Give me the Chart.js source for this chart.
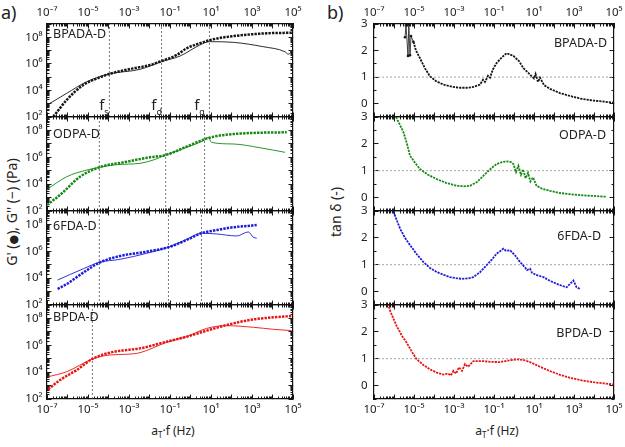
<!DOCTYPE html>
<html><head><meta charset="utf-8">
<script src="https://cdn.jsdelivr.net/npm/chart.js@4.4.1/dist/chart.umd.min.js"></script>
<style>
html,body{margin:0;padding:0;background:#fff;}
body{width:625px;height:447px;position:relative;overflow:hidden;font-family:'Noto Sans','DejaVu Sans',sans-serif;color:#222;}
canvas{position:absolute;left:0;top:0;}
.t{position:absolute;white-space:nowrap;line-height:1;}
.rot{transform:translate(-50%,-50%) rotate(-90deg);}
.ctr{transform:translate(-50%,-50%);}
sub{font-size:8px;vertical-align:-3px;}
</style></head><body>
<div class="t" style="left:1px;top:3px;font-size:18px">a)</div>
<div class="t" style="left:327px;top:3px;font-size:18px">b)</div>
<div class="t rot" style="left:12px;top:212px;font-size:14px">G' (<span style="font-size:11px">●</span>), G'' (−) (Pa)</div>
<div class="t rot" style="left:336px;top:212px;font-size:14px">tan δ (-)</div>
<div class="t ctr" style="left:173px;top:432px;font-size:12px">a<sub>T</sub>·f (Hz)</div>
<div class="t ctr" style="left:497px;top:432px;font-size:12px">a<sub>T</sub>·f (Hz)</div>
<script>
// ---------------- DATA ----------------
const panelNames = ['BPADA-D', 'ODPA-D', '6FDA-D', 'BPDA-D'];
const panelColors = ['#151515', '#148a14', '#1c1cd8', '#e81414'];
const xLabelExponents = [-7, -5, -3, -1, 1, 3, 5];
const gLabelExponents = [2, 4, 6, 8];
const tanLabels = [0, 1, 2, 3];

// left panels: log10(aT*f) and log10(G)
const bpadaGpF  = [-6.69, -6.04, -5.23, -4.41, -3.96, -2.79, -1.98, -1.42, -0.67, -0.19, 0.46, 1.11, 2.09, 3.72, 4.94];
const bpadaGpG  = [2.02, 3.28, 4.41, 4.99, 5.24, 5.66, 5.91, 6.21, 6.67, 7.17, 7.55, 7.85, 8.09, 8.30, 8.34];
const bpadaGppF = [-7.0, -6.04, -5.06, -3.96, -2.46, -1.42, -0.51, 0.46, 0.92, 2.09, 3.55, 4.61, 4.77, 5.0];
const bpadaGppG = [2.90, 3.78, 4.66, 5.24, 5.59, 6.16, 6.59, 7.42, 7.67, 7.62, 7.29, 6.91, 6.73, 7.04];

const odpaGpF  = [-7.0, -6.37, -5.39, -4.45, -3.11, -1.98, -1.21, -0.19, 0.69, 1.28, 2.09, 3.39, 4.69];
const odpaGpG  = [2.45, 3.19, 4.55, 5.25, 5.67, 6.0, 6.17, 6.79, 7.34, 7.58, 7.73, 7.83, 7.86];
const odpaGppF = [-7.0, -6.04, -5.06, -4.45, -3.6, -2.46, -1.81, -1.21, -0.19, 0.69, 0.87, 1.03, 2.09, 3.39, 4.61];
const odpaGppG = [3.61, 4.55, 5.05, 5.25, 5.45, 5.55, 5.80, 6.17, 6.74, 7.29, 7.49, 7.11, 6.99, 6.71, 6.37];

const fdaGpF  = [-6.48, -6.04, -5.23, -4.45, -3.44, -2.14, -1.08, -0.19, 0.53, 1.28, 2.09, 2.90, 3.23];
const fdaGpG  = [3.19, 3.56, 4.41, 5.15, 5.65, 5.97, 6.30, 6.84, 7.34, 7.58, 7.79, 7.90, 7.96];
const fdaGppF = [-6.48, -5.23, -4.45, -3.44, -2.14, -1.08, -0.19, 0.53, 1.28, 2.25, 2.82, 3.07, 3.23];
const fdaGppG = [3.86, 4.70, 5.18, 5.40, 5.85, 6.30, 6.89, 7.34, 7.29, 7.14, 7.44, 7.04, 6.97];

const bpdaGpF  = [-6.94, -6.37, -5.55, -4.79, -3.93, -3.11, -2.46, -1.16, -0.19, 0.79, 1.77, 3.07, 4.04, 4.94];
const bpdaGpG  = [2.72, 3.41, 4.16, 4.98, 5.45, 5.65, 5.77, 6.27, 6.64, 7.09, 7.51, 7.93, 8.08, 8.18];
const bpdaGppF = [-6.94, -6.04, -4.79, -3.93, -3.11, -2.46, -1.16, -0.19, 0.79, 1.77, 3.07, 4.04, 4.94];
const bpdaGppG = [3.66, 4.03, 4.98, 5.28, 5.33, 5.45, 6.22, 6.64, 7.26, 7.46, 7.34, 7.19, 7.09];

// characteristic frequencies (log10), dotted lines
const fLinesLog = [[-3.96, -1.42, 0.92], [-4.45, -1.21, 0.69], [-4.45, -1.08, 0.53], [-4.79]];
const fLineSubs = ['s', 'd', 'g'];

// right panels: log10(aT*f) and tan delta
const bpadaTanF = [-5.45, -5.4, -5.3, -5.26, -5.2, -5.15, -5.03, -4.9, -4.7, -4.45, -4.2, -3.9, -3.53, -3.1, -2.7, -2.35, -2.03, -1.7, -1.55, -1.45, -1.3, -1.2, -1.05, -0.87, -0.6, -0.37, -0.03, 0.25, 0.47, 0.8, 1.0, 1.08, 1.2, 1.3, 1.5, 1.8, 2.3, 2.8, 3.4, 3.97, 4.5, 4.97];
const bpadaTan  = [2.5, 2.95, 1.8, 3.0, 1.82, 2.55, 2.33, 2.0, 1.71, 1.33, 1.03, 0.85, 0.72, 0.64, 0.6, 0.6, 0.63, 0.72, 0.9, 0.82, 1.05, 0.98, 1.3, 1.53, 1.75, 1.9, 1.8, 1.6, 1.34, 1.1, 0.95, 1.12, 0.82, 0.98, 0.7, 0.56, 0.4, 0.29, 0.18, 0.12, 0.08, 0.04];
const odpaTanF = [-5.9, -5.7, -5.53, -5.35, -5.2, -4.95, -4.7, -4.3, -3.87, -3.4, -2.87, -2.5, -2.2, -1.85, -1.53, -1.2, -0.87, -0.6, -0.37, -0.15, -0.03, 0.1, 0.22, 0.35, 0.45, 0.58, 0.7, 0.82, 0.95, 1.13, 1.4, 1.8, 2.3, 2.8, 3.5, 4.0, 4.63];
const odpaTan  = [3.0, 2.7, 2.44, 2.0, 1.56, 1.3, 1.06, 0.85, 0.69, 0.55, 0.44, 0.42, 0.44, 0.58, 0.81, 1.05, 1.25, 1.32, 1.35, 1.32, 1.25, 0.95, 1.18, 0.85, 1.05, 0.72, 0.92, 0.6, 0.75, 0.44, 0.33, 0.25, 0.17, 0.125, 0.08, 0.06, 0.03];
const fdaTanF = [-6.03, -5.7, -5.45, -5.2, -4.85, -4.53, -4.2, -3.87, -3.5, -3.2, -2.9, -2.62, -2.3, -2.03, -1.7, -1.37, -1.1, -0.87, -0.7, -0.53, -0.4, -0.2, 0.05, 0.3, 0.55, 0.65, 0.8, 0.9, 1.1, 1.47, 1.8, 2.13, 2.45, 2.63, 2.97, 3.13, 3.3];
const fdaTan  = [2.98, 2.35, 2.0, 1.73, 1.38, 1.1, 0.88, 0.73, 0.62, 0.54, 0.5, 0.475, 0.49, 0.54, 0.72, 0.98, 1.2, 1.41, 1.5, 1.6, 1.52, 1.54, 1.35, 1.1, 0.9, 0.8, 0.85, 0.7, 0.62, 0.54, 0.4, 0.29, 0.2, 0.16, 0.41, 0.16, 0.1];
const bpdaTanF = [-6.3, -6.2, -5.87, -5.6, -5.37, -5.1, -4.87, -4.5, -4.2, -3.85, -3.53, -3.3, -3.15, -3.03, -2.9, -2.75, -2.6, -2.45, -2.3, -2.03, -1.53, -1.1, -0.7, -0.3, 0.13, 0.5, 0.8, 1.3, 1.8, 2.3, 2.8, 3.4, 3.97, 4.5, 4.97];
const bpdaTan  = [3.05, 2.79, 2.22, 1.85, 1.6, 1.25, 0.98, 0.75, 0.6, 0.48, 0.41, 0.45, 0.38, 0.55, 0.45, 0.68, 0.55, 0.8, 0.7, 0.91, 0.91, 0.88, 0.875, 0.93, 0.975, 0.95, 0.875, 0.7, 0.54, 0.4, 0.29, 0.19, 0.125, 0.08, 0.04];
// leading noisy points (drawn as thin error-bar-like strokes)
const tanNoisyCount = [7, 0, 0, 0];

const leftData = [
  {gpF: bpadaGpF, gp: bpadaGpG, gppF: bpadaGppF, gpp: bpadaGppG},
  {gpF: odpaGpF, gp: odpaGpG, gppF: odpaGppF, gpp: odpaGppG},
  {gpF: fdaGpF, gp: fdaGpG, gppF: fdaGppF, gpp: fdaGppG},
  {gpF: bpdaGpF, gp: bpdaGpG, gppF: bpdaGppF, gpp: bpdaGppG}
];
const rightData = [
  {f: bpadaTanF, t: bpadaTan}, {f: odpaTanF, t: odpaTan}, {f: fdaTanF, t: fdaTan}, {f: bpdaTanF, t: bpdaTan}
];

// ---------------- LAYOUT ----------------
const W = 625, H = 447;
const COLS = {L: {l: 47, r: 293}, R: {l: 374, r: 614}};
const ROWS = [24, 117, 211, 305, 399];
const FONT = "'Noto Sans','DejaVu Sans',sans-serif";
const Y_LABEL_BOX = {L: 42, R: 30};
const TOP_LABEL_BOX = 24, BOTTOM_LABEL_BOX = 26;
const leftNamePos = [[6, 10], [6, 17], [6, 15], [6, 12]];
const rightNamePos = [[7, 19], [8, 18], [13, 25], [12, 28]];
const fLabelDx = [[-5, -5, -10], [-5, -5, -5], [-5, -5, -5], [-5]];

function sup(n) {
  const m = {'-': '⁻', '0': '⁰', '1': '¹', '2': '²', '3': '³', '4': '⁴', '5': '⁵', '6': '⁶', '7': '⁷', '8': '⁸', '9': '⁹'};
  return String(n).split('').map(c => m[c]).join('');
}
function logList(e0, e1, minor) {
  const a = [];
  for (let e = e0; e < e1; e++) {
    if (minor) { for (let m = 1; m < 10; m++) a.push(+(m + 'e' + e)); }
    else a.push(+('1e' + e));
  }
  a.push(+('1e' + e1));
  return a;
}
const pw = v => Math.pow(10, v);
const xMajor = logList(-7, 5, false), xMinor = logList(-7, 5, true);
const gMajor = logList(2, 9, false), gMinor = logList(2, 9, true);
const tMajor = [0, 1, 2, 3], tMinor = [-0.5, 0, 0.5, 1, 1.5, 2, 2.5, 3];
const xLab = v => { const e = Math.round(Math.log10(v)); return xLabelExponents.includes(e) ? '10' + sup(e) : ''; };
const gLab = v => { const e = Math.round(Math.log10(v)); return gLabelExponents.includes(e) ? '10' + sup(e) : ''; };
const tLab = v => tanLabels.includes(v) ? String(v) : '';

// boxSize: size of the axis box (0 = sits exactly on the frame); weight 1 = outer
function mkAxis(axis, position, type, min, max, values, tickLen, labelFn, pad, border, boxSize, weight) {
  return {
    axis, position, type, min, max, bounds: 'data', offset: false, weight,
    afterBuildTicks(s) { s.ticks = values.map(v => ({value: v})); },
    afterFit(s) {
      if (axis === 'x') s.height = boxSize; else s.width = boxSize;
      s.paddingLeft = 0; s.paddingRight = 0; s.paddingTop = 0; s.paddingBottom = 0;
    },
    grid: {display: true, drawOnChartArea: false, drawTicks: true, tickLength: tickLen, color: '#1a1a1a', lineWidth: 1},
    border: {display: border, color: '#111', width: 1.2},
    ticks: {display: !!labelFn, autoSkip: false, maxRotation: 0, minRotation: 0, padding: pad, color: '#222',
      font: {family: FONT, size: 11.5}, callback: v => labelFn ? labelFn(v) : ''}
  };
}

const textPlugin = {
  id: 'panelText',
  afterDraw(chart, args, o) {
    const ctx = chart.ctx, a = chart.chartArea;
    ctx.save();
    ctx.fillStyle = '#222';
    ctx.textBaseline = 'middle';
    ctx.font = '12.5px ' + FONT;
    if (o.side === 'L') { ctx.textAlign = 'left'; ctx.fillText(o.name, a.left + o.pos[0], a.top + o.pos[1]); }
    else { ctx.textAlign = 'right'; ctx.fillText(o.name, a.right - o.pos[0], a.top + o.pos[1]); }
    (o.fl || []).forEach(f => {
      const x = chart.scales.x.getPixelForValue(pw(f.v)) + f.dx;
      ctx.textAlign = 'right'; ctx.font = '15px ' + FONT; ctx.fillText('f', x, a.bottom - 11);
      ctx.textAlign = 'left'; ctx.font = '9px ' + FONT; ctx.fillText(f.s, x, a.bottom - 5);
    });
    ctx.restore();
  }
};

function makeCanvas() {
  const c = document.createElement('canvas');
  c.width = W; c.height = H; c.style.width = W + 'px'; c.style.height = H + 'px';
  document.body.appendChild(c);
  return c;
}

function buildChart(row, side) {
  const col = COLS[side];
  const color = panelColors[row];
  const X0 = 1e-7, X1 = 1e5;
  const isL = side === 'L';
  const yType = isL ? 'logarithmic' : 'linear';
  const yMin = isL ? 1e2 : -0.5, yMax = isL ? 1e9 : 3;
  const yMaj = isL ? gMajor : tMajor, yMin2 = isL ? gMinor : tMinor;
  const yBox = Y_LABEL_BOX[side];
  const topBox = row === 0 ? TOP_LABEL_BOX : 0;
  const botBox = row === 3 ? BOTTOM_LABEL_BOX : 0;
  const scales = {
    x: mkAxis('x', 'bottom', 'logarithmic', X0, X1, xMajor, -4.5, row === 3 ? xLab : null, 8, true, botBox, 1),
    xm: mkAxis('x', 'bottom', 'logarithmic', X0, X1, xMinor, -2.5, null, 0, false, 0, 0),
    xt: mkAxis('x', 'top', 'logarithmic', X0, X1, xMajor, -4.5, row === 0 ? xLab : null, 8.5, true, topBox, 1),
    xtm: mkAxis('x', 'top', 'logarithmic', X0, X1, xMinor, -2.5, null, 0, false, 0, 0),
    y: mkAxis('y', 'left', yType, yMin, yMax, yMaj, -4.5, isL ? gLab : tLab, isL ? 9 : 11, true, yBox, 1),
    ym: mkAxis('y', 'left', yType, yMin, yMax, yMin2, -2.5, null, 0, false, 0, 0),
    yr: mkAxis('y', 'right', yType, yMin, yMax, yMaj, -4.5, null, 0, true, 0, 1),
    yrm: mkAxis('y', 'right', yType, yMin, yMax, yMin2, -2.5, null, 0, false, 0, 0)
  };
  const datasets = [];
  const base = {xAxisID: 'x', yAxisID: 'y', fill: false};
  let fl = [];
  if (isL) {
    const d = leftData[row];
    datasets.push(Object.assign({}, base, {
      data: d.gpF.map((f, i) => ({x: pw(f), y: pw(d.gp[i])})),
      borderColor: color, borderWidth: 2.5, borderDash: [2.4, 1.1], pointRadius: 0,
      cubicInterpolationMode: 'monotone'
    }));
    datasets.push(Object.assign({}, base, {
      data: d.gppF.map((f, i) => ({x: pw(f), y: pw(d.gpp[i])})),
      borderColor: color, borderWidth: 0.9, pointRadius: 0, cubicInterpolationMode: 'monotone'
    }));
    fLinesLog[row].forEach((v, k) => {
      datasets.push(Object.assign({}, base, {
        data: [{x: pw(v), y: 1e2}, {x: pw(v), y: 1e9}],
        borderColor: '#555', borderWidth: 0.8, borderDash: [2, 2], pointRadius: 0
      }));
      if (row === 0) fl.push({v, s: fLineSubs[k], dx: fLabelDx[row][k]});
    });
  } else {
    const d = rightData[row];
    const n = tanNoisyCount[row];
    datasets.push(Object.assign({}, base, {
      data: d.f.map((f, i) => ({x: pw(f), y: d.t[i]})),
      borderColor: color, borderWidth: 1.8, borderDash: [2.2, 1.0],
      pointRadius: c => c.dataIndex < n ? 1.3 : 0, pointBackgroundColor: color, pointBorderWidth: 0,
      tension: 0,
      segment: {
        borderWidth: c => c.p1DataIndex < n ? 0.8 : undefined,
        borderDash: c => c.p1DataIndex < n ? [] : undefined
      }
    }));
    datasets.push(Object.assign({}, base, {
      data: [{x: 1e-7, y: 1}, {x: 1e5, y: 1}],
      borderColor: '#9a9a9a', borderWidth: 0.9, borderDash: [2, 2], pointRadius: 0
    }));
  }
  new Chart(makeCanvas(), {
    type: 'line',
    data: {datasets},
    options: {
      responsive: false, animation: false, devicePixelRatio: 1, events: [],
      layout: {padding: {left: col.l - yBox, right: W - col.r, top: ROWS[row] - topBox, bottom: H - ROWS[row + 1] - botBox}},
      plugins: {
        legend: {display: false}, tooltip: {enabled: false},
        panelText: {side, name: panelNames[row], pos: isL ? leftNamePos[row] : rightNamePos[row], fl}
      },
      scales
    },
    plugins: [textPlugin]
  });
}

for (let r = 0; r < 4; r++) { buildChart(r, 'L'); buildChart(r, 'R'); }
</script>
</body></html>
